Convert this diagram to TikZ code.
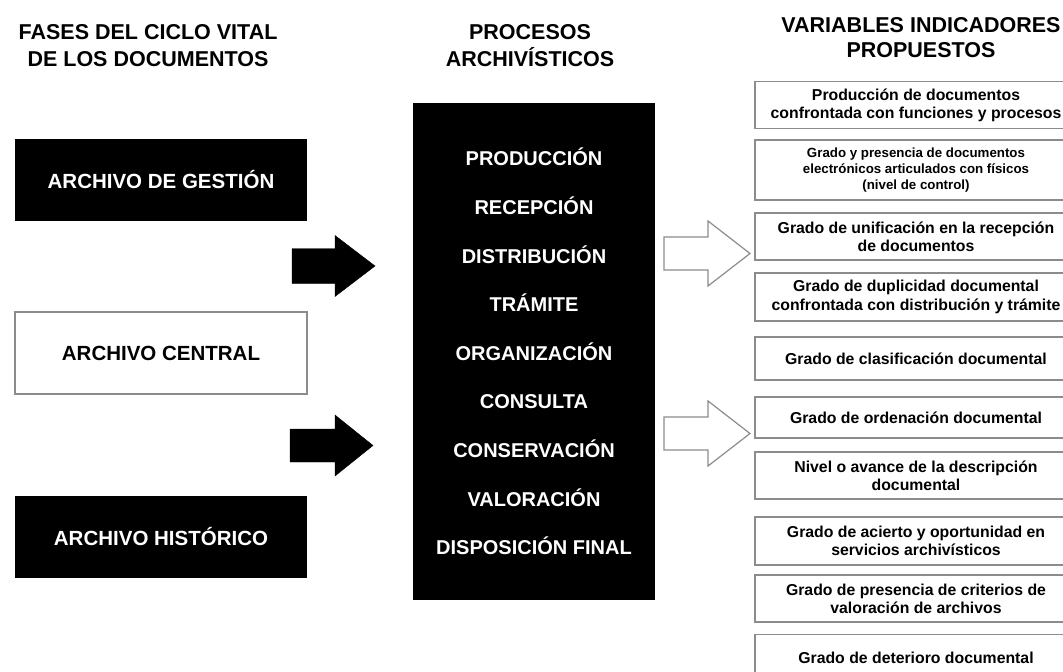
\documentclass[tikz,border=0pt]{standalone}
\usepackage{fontspec}
\setmainfont{Liberation Sans}
\usepackage{tikz}
\usepackage{xcolor}
\definecolor{edgegray}{gray}{0.55}
\tikzstyle{title}=[align=center, font=\bfseries\fontsize{21.5}{27}\selectfont]
\tikzstyle{phase}=[fill=black, text=white, minimum width=292pt, minimum height=82pt, inner sep=0pt, font=\bfseries\fontsize{20.5}{24}\selectfont]
\tikzstyle{phaselight}=[phase, fill=white, draw=edgegray, line width=1.2pt, text=black]
\tikzstyle{procbox}=[fill=black, text=white, minimum width=242pt, minimum height=497pt, align=center, font=\bfseries\fontsize{20}{48.6}\selectfont]
\tikzstyle{varbox}=[draw=edgegray, line width=1.2pt, minimum width=322pt, minimum height=47pt, inner sep=0pt, align=center, font=\bfseries\fontsize{15.8}{18.3}\selectfont]
\tikzstyle{blockarrow}=[fill=black]
\tikzstyle{hollowarrow}=[draw=edgegray, line width=1.2pt, fill=white]

\begin{document}
\begin{tikzpicture}[x=1pt,y=-1pt]%

	\useasboundingbox (0,0) rectangle (1063,672);

	% column titles
	\draw (148,45.5) node (Title_Fases) [title] {FASES DEL CICLO VITAL\\DE LOS DOCUMENTOS};
	\draw (530,45.5) node (Title_Procesos) [title] {PROCESOS\\ARCHIVÍSTICOS};
	\draw (921,37.5) node (Title_Variables) [title, font=\bfseries\fontsize{21.5}{25}\selectfont] {VARIABLES INDICADORES\\PROPUESTOS};

	% phases of the life cycle
	\draw (161,180) node (Fase_Gestion) [phase] {ARCHIVO DE GESTIÓN};
	\draw (161,353) node (Fase_Central) [phaselight] {ARCHIVO CENTRAL};
	\draw (161,537) node (Fase_Historico) [phase] {ARCHIVO HISTÓRICO};

	% processes
	\draw (534,351.5) node (Procesos) [procbox] {PRODUCCIÓN\\RECEPCIÓN\\DISTRIBUCIÓN\\TRÁMITE\\ORGANIZACIÓN\\CONSULTA\\CONSERVACIÓN\\VALORACIÓN\\DISPOSICIÓN FINAL};

	% black arrows
	\draw [blockarrow] (292,248.5) -- (335,248.5) -- (335,235.5) -- (375,266) -- (335,296.5) -- (335,283.5) -- (292,283.5) -- cycle;
	\draw [blockarrow] (290,429) -- (335,429) -- (335,415) -- (373,445.5) -- (335,476) -- (335,462) -- (290,462) -- cycle;

	% hollow arrows
	\draw [hollowarrow] (664,237) -- (708,237) -- (708,221) -- (750,253.5) -- (708,286) -- (708,270) -- (664,270) -- cycle;
	\draw [hollowarrow] (664,417) -- (708,417) -- (708,401) -- (750,433.5) -- (708,466) -- (708,450) -- (664,450) -- cycle;

	% indicators
	\draw (916,105) node (Var_1) [varbox] {Producción de documentos\\confrontada con funciones y procesos};
	\draw (916,170) node (Var_2) [varbox, minimum height=60pt, font=\bfseries\fontsize{13.3}{16}\selectfont] {Grado y presencia de documentos\\electrónicos articulados con físicos\\(nivel de control)};
	\draw (916,236.5) node (Var_3) [varbox] {Grado de unificación en la recepción\\de documentos};
	\draw (916,297) node (Var_4) [varbox, minimum height=48pt] {Grado de duplicidad documental\\confrontada con distribución y trámite};
	\draw (916,358.5) node (Var_5) [varbox, minimum height=43pt] {Grado de clasificación documental};
	\draw (916,417.5) node (Var_6) [varbox, minimum height=41pt] {Grado de ordenación documental};
	\draw (916,475.5) node (Var_7) [varbox] {Nivel o avance de la descripción\\documental};
	\draw (916,541) node (Var_8) [varbox, minimum height=48pt] {Grado de acierto y oportunidad en\\servicios archivísticos};
	\draw (916,598.5) node (Var_9) [varbox] {Grado de presencia de criterios de\\valoración de archivos};
	\draw (916,658) node (Var_10) [varbox] {Grado de deterioro documental};

\end{tikzpicture}
\end{document}
